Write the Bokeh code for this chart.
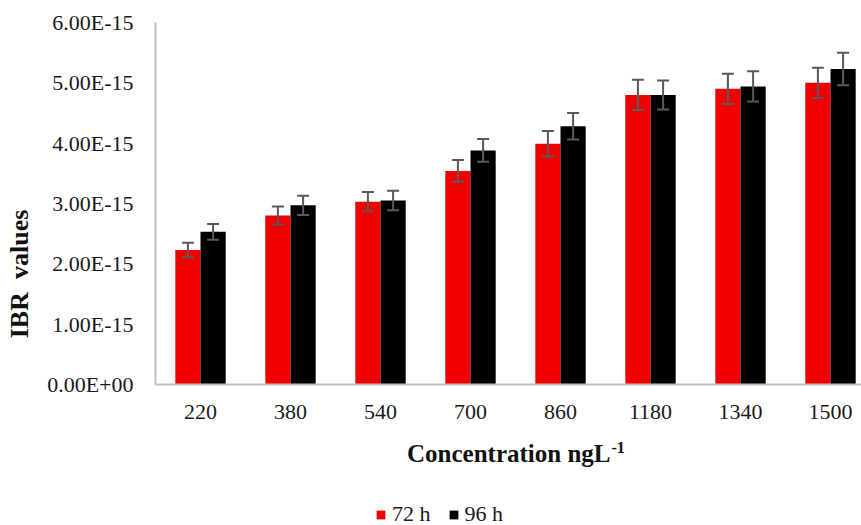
from bokeh.plotting import figure
from bokeh.models import (Range1d, FixedTicker, Whisker, TeeHead, ColumnDataSource,
                          Legend, LegendItem, Label)
from bokeh.transform import dodge
from bokeh.embed import file_html
from bokeh.resources import INLINE

# ---- data ----
categories = ["220", "380", "540", "700", "860", "1180", "1340", "1500"]
ibr_72h = [2.23e-15, 2.80e-15, 3.03e-15, 3.54e-15, 3.99e-15, 4.80e-15, 4.90e-15, 5.00e-15]
ibr_96h = [2.53e-15, 2.97e-15, 3.05e-15, 3.88e-15, 4.28e-15, 4.80e-15, 4.94e-15, 5.23e-15]
err_72h = [0.12e-15, 0.15e-15, 0.16e-15, 0.18e-15, 0.21e-15, 0.25e-15, 0.25e-15, 0.25e-15]
err_96h = [0.13e-15, 0.16e-15, 0.16e-15, 0.19e-15, 0.22e-15, 0.24e-15, 0.25e-15, 0.27e-15]
series_names = ["72 h", "96 h"]
y_ticks = [0.0, 1e-15, 2e-15, 3e-15, 4e-15, 5e-15, 6e-15]
y_tick_labels = ["0.00E+00", "1.00E-15", "2.00E-15", "3.00E-15", "4.00E-15", "5.00E-15", "6.00E-15"]
x_title = "Concentration ngL"
x_title_sup = "-1"
y_title = "IBR\u00a0 values"

RED = "#F00000"
BLACK = "#000000"
ERR = "#595959"
AXIS = "#BFBFBF"
FONT = "Liberation Serif"

# layout: frame spans to the canvas bottom; value 0 sits 141 px above it
H, TOP, ZERO_PX = 525, 22, 384
y_max = y_ticks[-1]
px_per_unit = (ZERO_PX - TOP) / y_max
y_min = -(H - ZERO_PX) / px_per_unit

xs = list(range(len(categories)))
src = ColumnDataSource(dict(
    x=xs,
    v72=ibr_72h, v96=ibr_96h,
    up72=[v + e for v, e in zip(ibr_72h, err_72h)],
    lo72=[v - e for v, e in zip(ibr_72h, err_72h)],
    up96=[v + e for v, e in zip(ibr_96h, err_96h)],
    lo96=[v - e for v, e in zip(ibr_96h, err_96h)],
))

p = figure(width=861, height=H, output_backend="svg", toolbar_location=None,
           x_range=Range1d(-0.5, -0.5 + (861 - 155) / 90),
           y_range=Range1d(y_min, y_max),
           min_border_left=155, min_border_right=0, min_border_top=TOP, min_border_bottom=0)
p.outline_line_color = None
p.xgrid.visible = False
p.ygrid.visible = False
p.background_fill_color = "white"
p.border_fill_color = "white"

bw = 0.28
r72 = p.vbar(x=dodge("x", -bw / 2), top="v72", width=bw, source=src,
             fill_color=RED, line_color=None)
r96 = p.vbar(x=dodge("x", bw / 2), top="v96", width=bw, source=src,
             fill_color=BLACK, line_color=None)

for off, up, lo in [(-bw / 2, "up72", "lo72"), (bw / 2, "up96", "lo96")]:
    w = Whisker(base=dodge("x", off), upper=up, lower=lo, source=src,
                line_color=ERR, line_width=2, level="annotation",
                upper_head=TeeHead(size=12, line_color=ERR, line_width=2),
                lower_head=TeeHead(size=12, line_color=ERR, line_width=2))
    p.add_layout(w)

# axes
p.xaxis.fixed_location = 0
p.xaxis.ticker = FixedTicker(ticks=xs)
p.xaxis.major_label_overrides = {i: c for i, c in zip(xs, categories)}
p.yaxis.ticker = FixedTicker(ticks=y_ticks)
p.yaxis.major_label_overrides = {t: l for t, l in zip(y_ticks, y_tick_labels)}
p.yaxis.bounds = (y_ticks[0], y_ticks[-1])
for ax in (p.xaxis[0], p.yaxis[0]):
    ax.axis_line_color = AXIS
    ax.axis_line_width = 2
    ax.major_tick_line_color = None
    ax.minor_tick_line_color = None
    ax.major_tick_out = 0
    ax.major_tick_in = 0
    ax.major_label_text_font = FONT
    ax.major_label_text_font_size = "22px"
    ax.major_label_text_color = "#1a1a1a"
p.yaxis.major_label_standoff = 22
p.xaxis.major_label_standoff = 20

p.yaxis.axis_label = y_title
p.yaxis.axis_label_text_font = FONT
p.yaxis.axis_label_text_font_style = "bold"
p.yaxis.axis_label_text_font_size = "26px"
p.yaxis.axis_label_text_color = "#111111"
p.yaxis.axis_label_standoff = 10

# x title with superscript (screen units from the frame's bottom-left)
p.add_layout(Label(x=455, y=H - 453, x_units="screen", y_units="screen", text=x_title,
                   text_align="right", text_baseline="alphabetic", text_font=FONT,
                   text_font_style="bold", text_font_size="25px", text_color="#111111"))
p.add_layout(Label(x=456, y=H - 447, x_units="screen", y_units="screen", text=x_title_sup,
                   text_align="left", text_baseline="alphabetic", text_font=FONT,
                   text_font_style="bold", text_font_size="16px", text_color="#111111"))

legend = Legend(items=[LegendItem(label=series_names[0], renderers=[r72]),
                       LegendItem(label=series_names[1], renderers=[r96])],
                orientation="horizontal", location=(220, -2), padding=0, margin=0,
                spacing=17, label_standoff=6, glyph_width=11, glyph_height=11,
                border_line_color=None, background_fill_alpha=0,
                label_text_font=FONT, label_text_font_size="22px",
                label_text_color="#1a1a1a")
p.add_layout(legend)

open("out.html", "w").write(file_html(p, INLINE))
